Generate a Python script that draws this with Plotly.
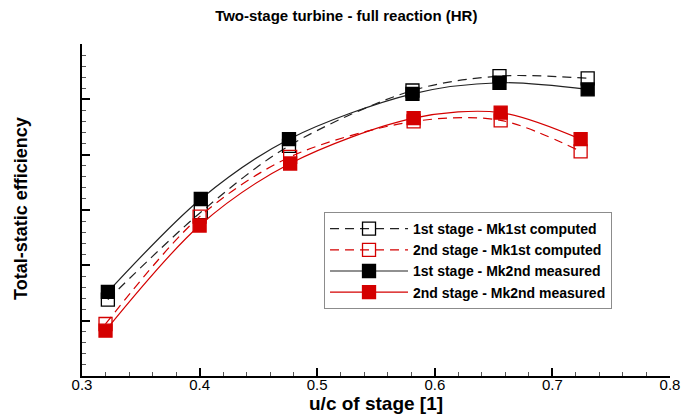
import plotly.graph_objects as go

# u/c of stage
x_black = [0.322, 0.401, 0.476, 0.581, 0.655, 0.730]
x_red = [0.320, 0.400, 0.477, 0.582, 0.656, 0.724]

# total-static efficiency (axis has no labels; relative values)
eff_1st_mk1_computed = [0.569, 0.648, 0.708, 0.758, 0.771, 0.769]
eff_2nd_mk1_computed = [0.547, 0.644, 0.698, 0.730, 0.731, 0.703]
eff_1st_mk2_measured = [0.576, 0.660, 0.714, 0.755, 0.765, 0.759]
eff_2nd_mk2_measured = [0.541, 0.636, 0.692, 0.733, 0.738, 0.714]

names = [
    "1st stage - Mk1st computed",
    "2nd stage - Mk1st computed",
    "1st stage - Mk2nd measured",
    "2nd stage - Mk2nd measured",
]

BLACK = "#000000"
RED = "#d40000"
FONT = "Liberation Sans, Arial, sans-serif"

fig = go.Figure()

series = [
    (x_black, eff_1st_mk1_computed, names[0], BLACK, "#222222", "9px,6px", "square-open"),
    (x_red, eff_2nd_mk1_computed, names[1], RED, RED, "9px,6px", "square-open"),
    (x_black, eff_1st_mk2_measured, names[2], BLACK, "#222222", "solid", "square"),
    (x_red, eff_2nd_mk2_measured, names[3], RED, RED, "solid", "square"),
]

for xs, ys, nm, mc, lc, dash, sym in series:
    fig.add_trace(go.Scatter(
        x=xs, y=ys, name=nm, mode="lines+markers",
        line=dict(color=lc, width=1.2, dash=dash, shape="spline", smoothing=0.9),
        marker=dict(symbol=sym, size=13, color=mc,
                    line=dict(color=mc, width=1.3)),
    ))

fig.update_layout(
    width=683, height=415,
    margin=dict(l=82, r=13, t=44, b=39, autoexpand=False),
    paper_bgcolor="white", plot_bgcolor="white",
    font=dict(family=FONT, color="black"),
    title=dict(text="Two-stage turbine - full reaction (HR)",
               x=0.507, xanchor="center", y=0.963, yanchor="middle",
               font=dict(size=15, weight="bold", family=FONT)),
    showlegend=True,
    legend=dict(
        x=0.4116, y=0.494, xanchor="left", yanchor="top",
        bordercolor="#8c8c8c", borderwidth=1, bgcolor="white",
        font=dict(size=14, weight="bold", family=FONT),
        itemwidth=78, tracegroupgap=0,
    ),
    xaxis=dict(
        range=[0.3, 0.8], dtick=0.1, tick0=0.3, tickformat=".1f",
        automargin=False,
        showgrid=False, zeroline=False,
        showline=True, linecolor="black", linewidth=1.5,
        ticks="inside", ticklen=8, tickwidth=1.5, tickcolor="black",
        minor=dict(dtick=0.02, ticks="inside", ticklen=4, tickcolor="#555", tickwidth=1),
        tickfont=dict(size=15, family=FONT),
        ticklabelstandoff=-6,
    ),
    yaxis=dict(
        range=[0.5, 0.8], dtick=0.05, tick0=0.5,
        automargin=False,
        showticklabels=False,
        showgrid=False, zeroline=False,
        showline=True, linecolor="black", linewidth=1.5,
        ticks="inside", ticklen=8, tickwidth=1.5, tickcolor="black",
        minor=dict(dtick=0.01, ticks="inside", ticklen=4, tickcolor="#555", tickwidth=1),
    ),
    annotations=[
        dict(
            text="Total-static efficiency", xref="paper", yref="paper",
            x=-0.105, y=0.504, xanchor="center", yanchor="middle", textangle=-90,
            showarrow=False, font=dict(size=18, weight="bold", family=FONT),
        ),
        dict(
            text="u/c of stage [1]", xref="paper", yref="paper",
            x=0.5, y=-0.082, xanchor="center", yanchor="middle",
            showarrow=False, font=dict(size=19, weight="bold", family=FONT),
        ),
    ],
)

fig.write_html("out.html")
